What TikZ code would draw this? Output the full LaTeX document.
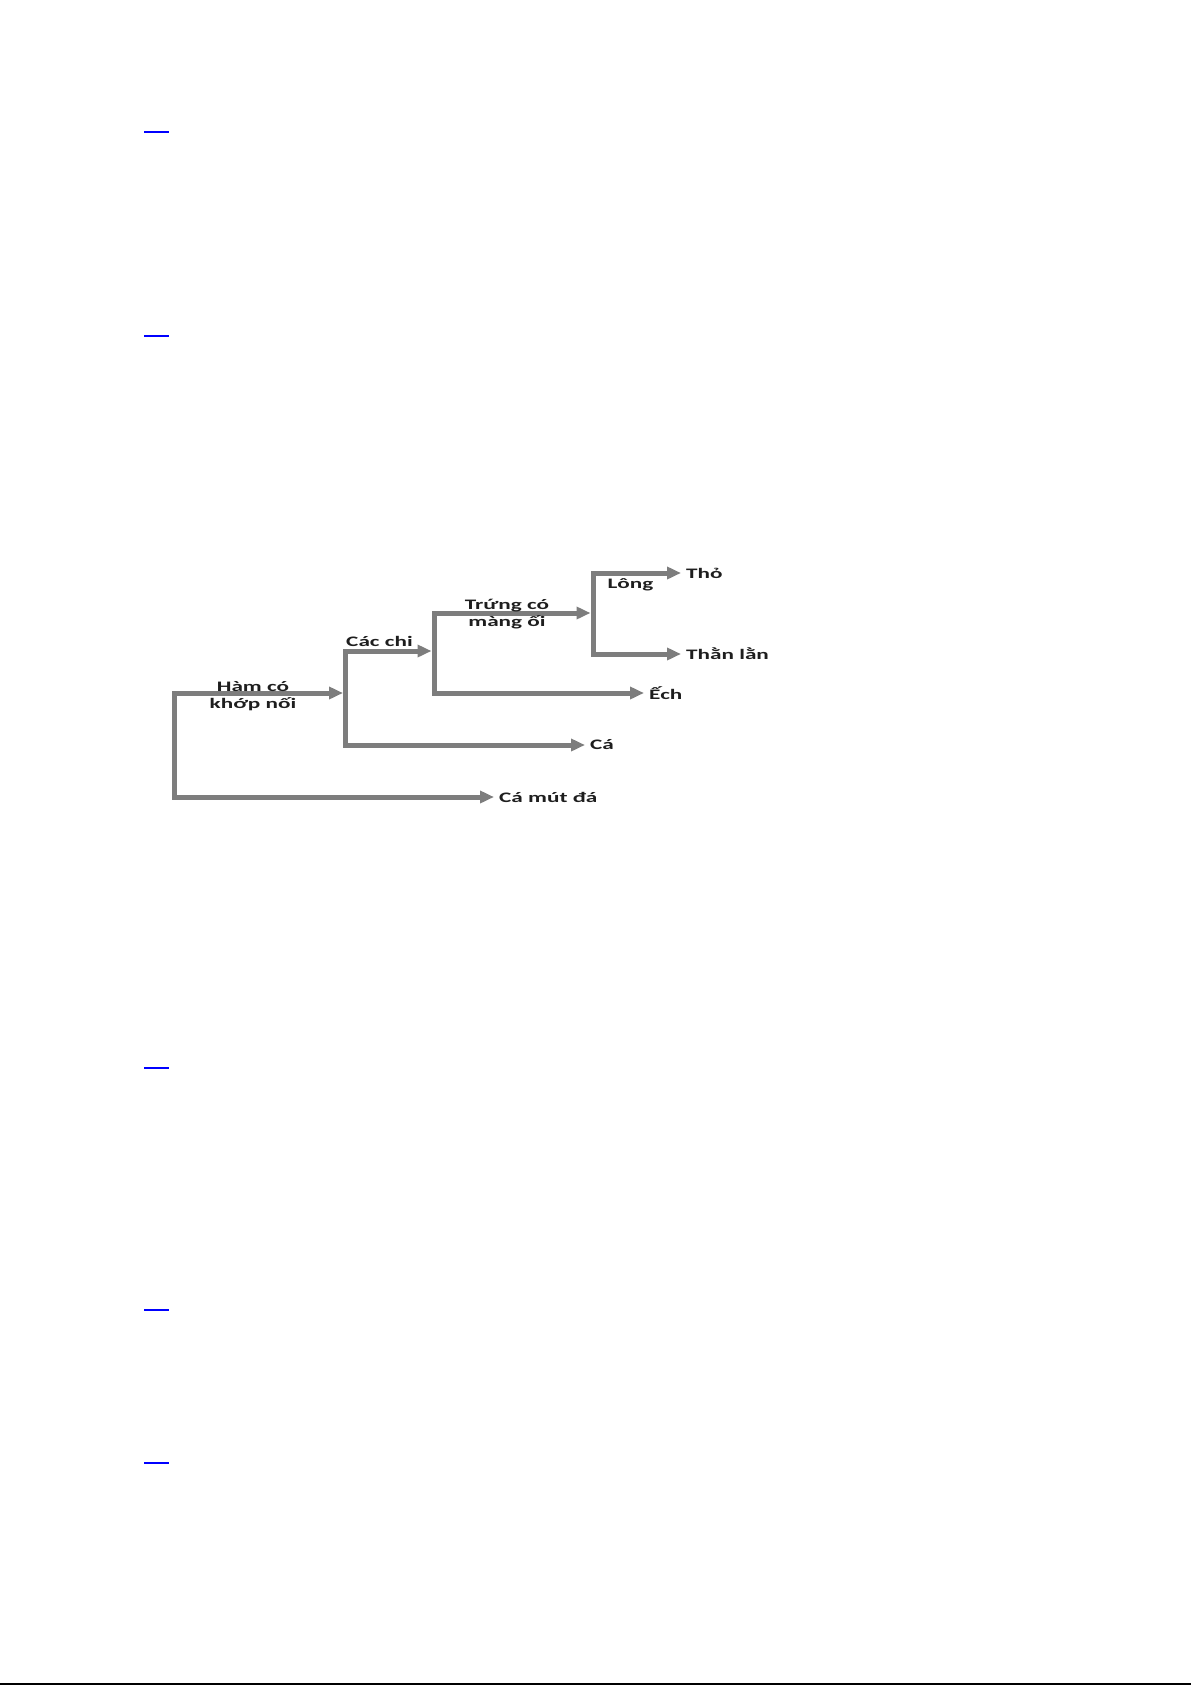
\documentclass[tikz,border=0pt]{standalone}
\usepackage{fontspec}
\newfontfamily\cladefont{Carlito}[FakeStretch=1.6]
\usetikzlibrary{arrows.meta,positioning}
\definecolor{BranchGray}{RGB}{125,125,125}
\definecolor{LinkBlue}{RGB}{0,0,255}
\definecolor{LabelInk}{RGB}{30,30,30}
\tikzset{
  branch/.style={{Triangle[length=14pt,width=12pt]}-{Triangle[length=14pt,width=12pt]}, line width=5pt, draw=BranchGray, line join=miter},
  leaf/.style={anchor=west, inner xsep=5pt, inner ysep=1pt, text=LabelInk, font=\fontsize{14.5}{17.5}\cladefont\bfseries},
  trait/.style={align=center, inner sep=0pt, text=LabelInk, font=\fontsize{14.5}{17.5}\cladefont\bfseries},
  linkbar/.style={line width=2.3pt, draw=LinkBlue}
}

\begin{document}
\begin{tikzpicture}[x=1pt, y=-1pt]
\useasboundingbox (0,0) rectangle (1191,1685);
\foreach \y in {131.7,335.7,1067.7,1310.3,1463} {
  \draw[linkbar] (144,\y) -- (169,\y);
}
\draw[line width=1.5pt] (0,1684) -- (1191,1684);
\coordinate (root) at (174,693);
\coordinate (root-low) at (174,797);
\coordinate (jaw) at (343,693);
\coordinate (limb-up) at (345,651);
\coordinate (limb-low) at (345,745);
\coordinate (limb) at (431.5,651);
\coordinate (egg-up) at (434,613);
\coordinate (egg-low) at (434,693);
\coordinate (egg) at (590.5,613);
\coordinate (hair-up) at (593,573);
\coordinate (hair-low) at (593,654);
\node[leaf] (tho) at (681,573) {Thỏ};
\node[leaf] (thanlan) at (681,654) {Thằn lằn};
\node[leaf] (ech) at (644,693) {Ếch};
\node[leaf] (ca) at (585,745) {Cá};
\node[leaf] (camutda) at (494,797) {Cá mút đá};
\draw[branch] (jaw) -- (root) -- (root-low) -- (camutda);
\draw[branch] (limb) -- (limb-up) -- (limb-low) -- (ca);
\draw[branch] (egg) -- (egg-up) -- (egg-low) -- (ech);
\draw[branch] (tho) -- (hair-up) -- (hair-low) -- (thanlan);
\node[trait] (jawlabel) at (253,696) {Hàm có\\khớp nối};
\node[trait] (egglabel) at (507,614) {Trứng có\\màng ối};
\node[trait, anchor=base] (limblabel) at (379.5,646) {Các chi};
\node[trait, anchor=base] (hairlabel) at (630.5,588) {Lông};
\end{tikzpicture}
\end{document}
